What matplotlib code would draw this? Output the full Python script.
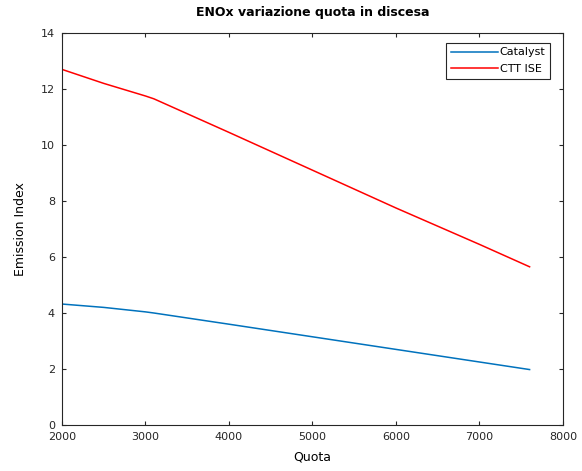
# ENOx variazione quota in discesa
from matplotlib import pyplot as plt
import numpy as np

# Data
quota = [2000, 2500, 3000, 3100, 4000, 5000, 6000, 7000, 7600]
catalyst = [4.32, 4.20, 4.04, 4.00, 3.60, 3.15, 2.70, 2.25, 1.98]
ctt_ise = [12.70, 12.20, 11.75, 11.65, 10.45, 9.10, 7.75, 6.45, 5.65]

fig = plt.figure(figsize=(5.82, 4.71), dpi=100)
ax = fig.add_axes([62/582, 46/471, 501/582, 392/471])

ax.plot(quota, catalyst, color=(0, 0.447, 0.741), linewidth=1.1, label="Catalyst")
ax.plot(quota, ctt_ise, color="red", linewidth=1.1, label="CTT ISE")

ax.set_xlim(2000, 8000)
ax.set_ylim(0, 14)
ax.set_xticks(np.arange(2000, 8001, 1000))
ax.set_yticks(np.arange(0, 15, 2))
ax.tick_params(direction="in", top=True, right=True, labelsize=8, length=3,
               colors="#262626", pad=5)
for s in ax.spines.values():
    s.set_color("#262626")
    s.set_linewidth(0.8)

ax.set_xlabel("Quota", fontsize=9, labelpad=6)
ax.set_ylabel("Emission Index", fontsize=9, labelpad=10)
ax.set_title("ENOx variazione quota in discesa", fontsize=9, fontweight="bold", pad=12)

# legend box placed in axes pixels: right edge ~550, top ~43
leg = ax.legend(loc="upper right", bbox_to_anchor=(550/582, 428/471),
                bbox_transform=fig.transFigure, borderaxespad=0,
                fontsize=8, fancybox=False, edgecolor="#262626", framealpha=1,
                handlelength=4.2, handletextpad=0.2, labelspacing=0.6)
leg.get_frame().set_linewidth(0.8)

plt.savefig("out.png", dpi=100)
